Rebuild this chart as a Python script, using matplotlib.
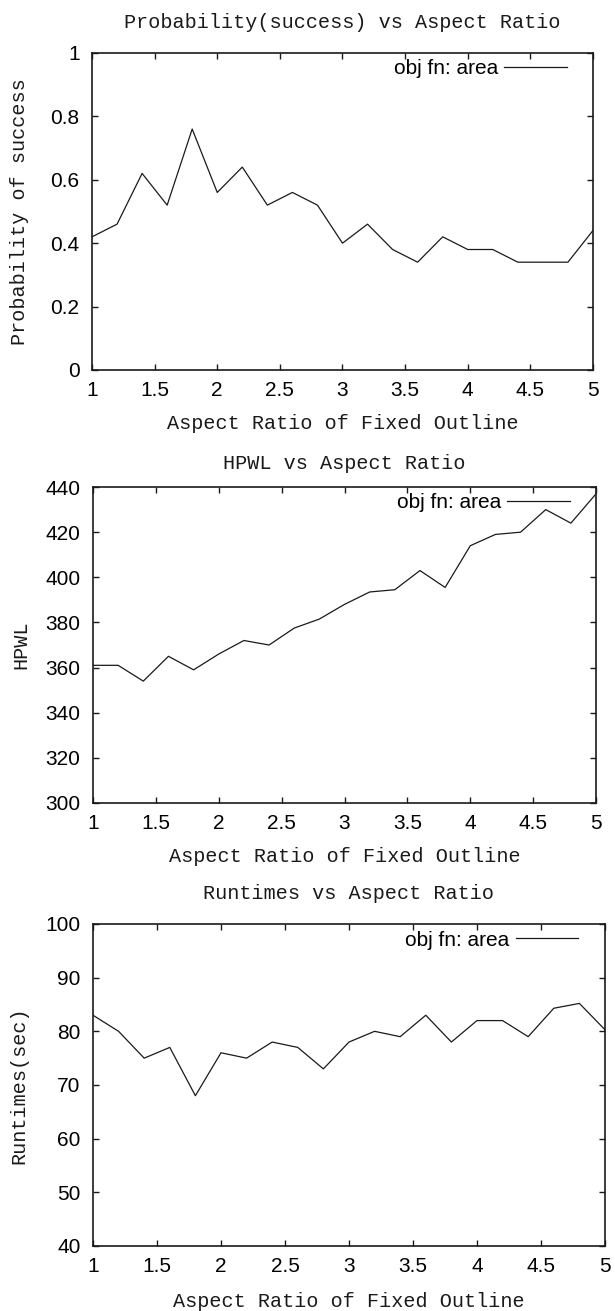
import matplotlib
matplotlib.use("Agg")
import matplotlib.pyplot as plt
import numpy as np

# aspect ratio of the fixed outline, 1.0 .. 5.0 in steps of 0.2
aspect_ratio = [1.0, 1.2, 1.4, 1.6, 1.8, 2.0, 2.2, 2.4, 2.6, 2.8, 3.0,
                3.2, 3.4, 3.6, 3.8, 4.0, 4.2, 4.4, 4.6, 4.8, 5.0]

prob_success = [0.42, 0.46, 0.62, 0.52, 0.76, 0.56, 0.64, 0.52, 0.56, 0.52, 0.40,
                0.46, 0.38, 0.34, 0.42, 0.38, 0.38, 0.34, 0.34, 0.34, 0.44]

hpwl = [361, 361, 354, 365, 359, 366, 372, 370, 377.5, 381.5, 388,
        393.5, 394.5, 403, 395.5, 414, 419, 420, 430, 424, 437]

runtimes = [83, 80, 75, 77, 68, 76, 75, 78, 77, 73, 78,
            80, 79, 83, 78, 82, 82, 79, 84.3, 85.2, 80.3]

x_ticks = [1, 1.5, 2, 2.5, 3, 3.5, 4, 4.5, 5]
x_tick_labels = ["1", "1.5", "2", "2.5", "3", "3.5", "4", "4.5", "5"]

MONO = "Liberation Mono"
SANS = "Liberation Sans"
INK = "#1a1a1a"

# (title, ylabel, data, ylim, yticks, ytick labels, axes rect, title offset, xlabel offset)
panels = [
    ("Probability(success) vs Aspect Ratio", "Probability of success", prob_success,
     (0, 1), [0, 0.2, 0.4, 0.6, 0.8, 1], ["0", "0.2", "0.4", "0.6", "0.8", "1"],
     [0.1496, 0.7178, 0.8146, 0.2418], 1.095, -0.168),
    ("HPWL vs Aspect Ratio", "HPWL", hpwl,
     (300, 440), list(range(300, 441, 20)), [str(v) for v in range(300, 441, 20)],
     [0.1512, 0.3875, 0.8180, 0.2410], 1.073, -0.168),
    ("Runtimes vs Aspect Ratio", "Runtimes(sec)", runtimes,
     (40, 100), list(range(40, 101, 10)), [str(v) for v in range(40, 101, 10)],
     [0.1512, 0.0496, 0.8325, 0.2456], 1.096, -0.174),
]

fig = plt.figure(figsize=(6.15, 13.11), dpi=100)

for title, ylabel, values, ylim, yticks, ytick_labels, rect, t_off, xl_off in panels:
    ax = fig.add_axes(rect)
    ax.plot(aspect_ratio, values, color=INK, linewidth=0.9, label="obj fn: area")
    ax.set_xlim(1, 5)
    ax.set_ylim(*ylim)

    ax.set_xticks(x_ticks)
    ax.set_xticklabels(x_tick_labels, family=SANS, fontsize=15)
    ax.set_yticks(yticks)
    ax.set_yticklabels(ytick_labels, family=SANS, fontsize=15)
    ax.tick_params(axis="both", direction="in", top=True, right=True,
                   length=4.5, width=1.0, color=INK)
    ax.tick_params(axis="x", pad=8)
    ax.tick_params(axis="y", pad=9)

    for sp in ax.spines.values():
        sp.set_linewidth(1.2)
        sp.set_color(INK)

    ax.text(0.5, t_off, title, transform=ax.transAxes, ha="center", va="center",
            family=MONO, fontsize=14.5, color=INK)
    ax.set_xlabel("Aspect Ratio of Fixed Outline", family=MONO, fontsize=14.5,
                  color=INK, va="center")
    ax.xaxis.set_label_coords(0.5, xl_off)
    ax.set_ylabel(ylabel, family=MONO, fontsize=14.5, color=INK, va="center")
    ax.yaxis.set_label_coords(-0.144, 0.5)

    ax.legend(loc="center right", bbox_to_anchor=(0.948, 0.95), frameon=False,
              markerfirst=False, handlelength=3.0, handletextpad=0.3,
              borderpad=0, borderaxespad=0, prop={"family": SANS, "size": 15})

fig.savefig("out.png", dpi=100)
